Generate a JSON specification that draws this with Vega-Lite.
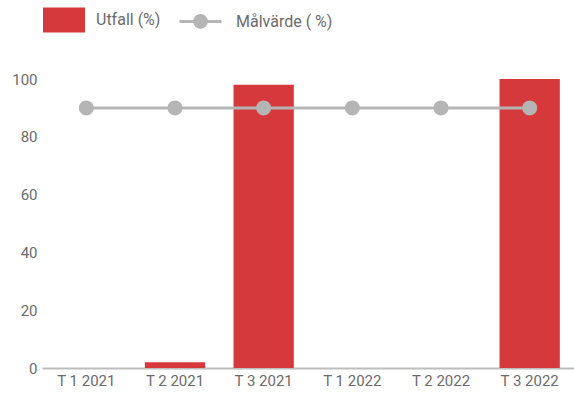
{
  "$schema": "https://vega.github.io/schema/vega-lite/v6.json",
  "width": 532,
  "height": 289,
  "autosize": "none",
  "padding": {"left": 42, "top": 79, "right": 0, "bottom": 26},
  "background": "white",
  "config": {
    "view": {"stroke": null},
    "font": "Roboto",
    "axis": {"labelFont": "Roboto", "labelFontSize": 15, "labelColor": "#6b6b6b", "grid": false, "ticks": false, "title": null},
    "legend": {"labelFont": "Roboto", "labelFontSize": 16, "labelColor": "#6b6b6b"}
  },
  "data": {
    "values": [
      {"period": "T 1 2021", "utfall": null, "malvarde": 90},
      {"period": "T 2 2021", "utfall": 2, "malvarde": 90},
      {"period": "T 3 2021", "utfall": 98, "malvarde": 90},
      {"period": "T 1 2022", "utfall": null, "malvarde": 90},
      {"period": "T 2 2022", "utfall": null, "malvarde": 90},
      {"period": "T 3 2022", "utfall": 100, "malvarde": 90}
    ]
  },
  "encoding": {
    "x": {
      "field": "period",
      "type": "nominal",
      "sort": null,
      "scale": {"domain": ["T 1 2021", "T 2 2021", "T 3 2021", "T 1 2022", "T 2 2022", "T 3 2022"], "paddingInner": 0.32, "paddingOuter": 0.16},
      "axis": {"labelAngle": 0, "domainColor": "#bdbdbd", "domainWidth": 2, "labelPadding": 5}
    }
  },
  "layer": [
    {
      "mark": {"type": "bar", "color": "#d6393b"},
      "encoding": {
        "y": {
          "field": "utfall",
          "type": "quantitative",
          "scale": {"domain": [0, 100], "nice": false},
          "axis": {"values": [0, 20, 40, 60, 80, 100], "domain": false, "labelPadding": 5}
        },
        "fill": {
          "datum": "Utfall (%)",
          "type": "nominal",
          "scale": {"range": ["#d6393b"]},
          "legend": {
            "orient": "none",
            "legendX": 1,
            "legendY": -80,
            "title": null,
            "symbolType": "M-1,-0.6H1V0.6H-1Z",
            "symbolSize": 1764,
            "symbolStrokeWidth": 0,
            "labelOffset": 11
          }
        }
      }
    },
    {
      "mark": {"type": "line", "color": "#b5b5b5", "strokeWidth": 3, "point": {"filled": true, "size": 170, "color": "#b5b5b5"}},
      "encoding": {
        "y": {"field": "malvarde", "type": "quantitative"},
        "stroke": {
          "datum": "Målvärde ( %)",
          "type": "nominal",
          "scale": {"range": ["#b5b5b5"]},
          "legend": {
            "orient": "none",
            "legendX": 136,
            "legendY": -80,
            "title": null,
            "symbolType": "M-1,0H1M-0.28,0A0.28,0.28 0 1,1 0.28,0A0.28,0.28 0 1,1 -0.28,0Z",
            "symbolSize": 1764,
            "symbolStrokeWidth": 3,
            "symbolFillColor": "#b5b5b5",
            "labelOffset": 13
          }
        }
      }
    }
  ],
  "resolve": {"scale": {"fill": "independent", "stroke": "independent"}}
}
